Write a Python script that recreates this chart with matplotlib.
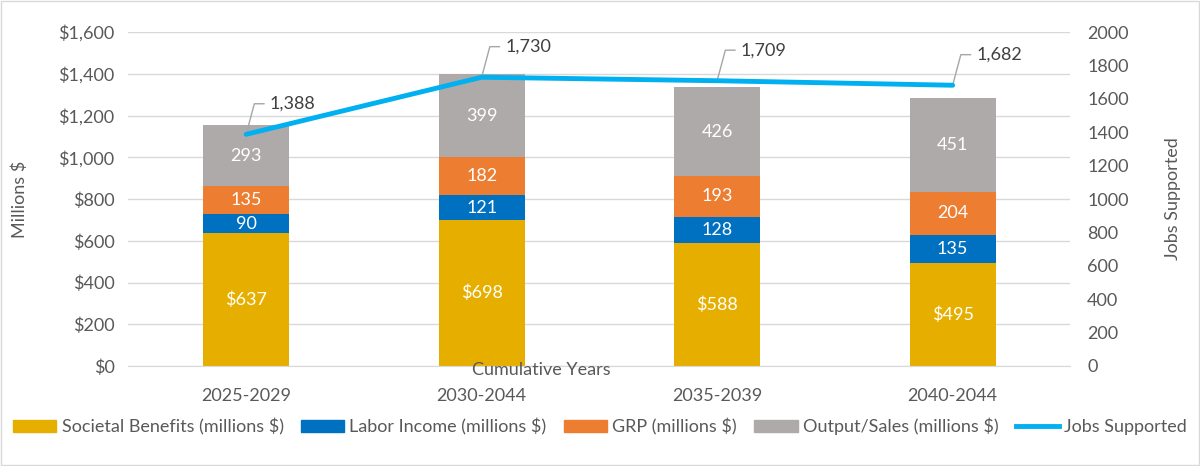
import matplotlib.pyplot as plt
from matplotlib.patches import Rectangle
from matplotlib.lines import Line2D
import numpy as np

plt.rcParams['font.family'] = ['Lato', 'DejaVu Sans']

periods = ['2025-2029', '2030-2044', '2035-2039', '2040-2044']
societal = [637, 698, 588, 495]
labor = [90, 121, 128, 135]
grp = [135, 182, 193, 204]
output = [293, 399, 426, 451]
jobs = [1388, 1730, 1709, 1682]

c_soc = '#E6AF00'
c_lab = '#0070C0'
c_grp = '#ED7D31'
c_out = '#AEAAAA'
c_job = '#00B0F0'
txt = '#595959'
fs = 13

fig = plt.figure(figsize=(12, 4.66), dpi=100)
ax = fig.add_axes([0.107, 0.2146, 0.785, 0.7164])
ax2 = ax.twinx()

x = np.arange(len(periods))
w = 0.365
bottom = np.zeros(len(periods))
series = [(societal, c_soc, 'Societal Benefits (millions $)'),
          (labor, c_lab, 'Labor Income (millions $)'),
          (grp, c_grp, 'GRP (millions $)'),
          (output, c_out, 'Output/Sales (millions $)')]
for i, (vals, col, name) in enumerate(series):
    ax.bar(x, vals, w, bottom=bottom, color=col, label=name, zorder=2)
    for xi, v, b in zip(x, vals, bottom):
        s = '${:,}'.format(v) if i == 0 else '{:,}'.format(v)
        ax.text(xi, b + v / 2, s, ha='center', va='center', color='white', fontsize=fs, zorder=3)
    bottom = bottom + np.array(vals)

ax.set_ylim(0, 1600)
ax.set_yticks(range(0, 1601, 200))
ax.set_yticklabels(['${:,}'.format(v) for v in range(0, 1601, 200)])
ax.set_xlim(-0.5, len(periods) - 0.5)
ax.set_xticks(x)
ax.set_xticklabels(periods)
ax.grid(axis='y', color='#D9D9D9', lw=1, zorder=0)
ax.set_axisbelow(True)
for s in ['top', 'right', 'left']:
    ax.spines[s].set_visible(False)
ax.spines['bottom'].set_color('#D9D9D9')
ax.tick_params(length=0, labelsize=fs, colors=txt, pad=10)
ax.tick_params(axis='x', pad=16)
ax.set_ylabel('Millions $', fontsize=fs, color=txt, labelpad=22)

ax2.plot(x, jobs, color=c_job, lw=3.5, zorder=4, solid_capstyle='round')
ax2.set_ylim(0, 2000)
ax2.set_yticks(range(0, 2001, 200))
for s in ['top', 'right', 'left', 'bottom']:
    ax2.spines[s].set_visible(False)
ax2.tick_params(length=0, labelsize=fs, colors=txt, pad=12)
ax2.set_ylabel('Jobs Supported', fontsize=fs, color=txt, labelpad=26)
for xi, j in zip(x, jobs):
    ax2.annotate('{:,}'.format(j), xy=(xi, j), xytext=(17, 22), textcoords='offset points',
                 ha='left', va='center', fontsize=fs, color='#404040',
                 arrowprops=dict(arrowstyle='-', color='#A6A6A6', lw=1,
                                 relpos=(0, 0.5), shrinkA=2, shrinkB=0,
                                 connectionstyle='angle,angleA=0,angleB=75,rad=0'))

fig.text(0.451, 0.205, 'Cumulative Years', ha='center', va='center', fontsize=fs, color=txt)

handles = [Rectangle((0, 0), 1, 1, color=c) for _, c, _ in series]
handles.append(Line2D([0], [0], color=c_job, lw=3.5))
labels = [n for _, _, n in series] + ['Jobs Supported']
fig.legend(handles, labels, loc='center', bbox_to_anchor=(0.5, 0.085), ncol=5, frameon=False,
           fontsize=fs, labelcolor=txt, handlelength=2.4, handletextpad=0.3, columnspacing=0.95)

fig.add_artist(Rectangle((0.001, 0.002), 0.998, 0.996, transform=fig.transFigure,
                         fill=False, edgecolor='#D9D9D9', lw=1))

fig.savefig('out.png', dpi=100)
